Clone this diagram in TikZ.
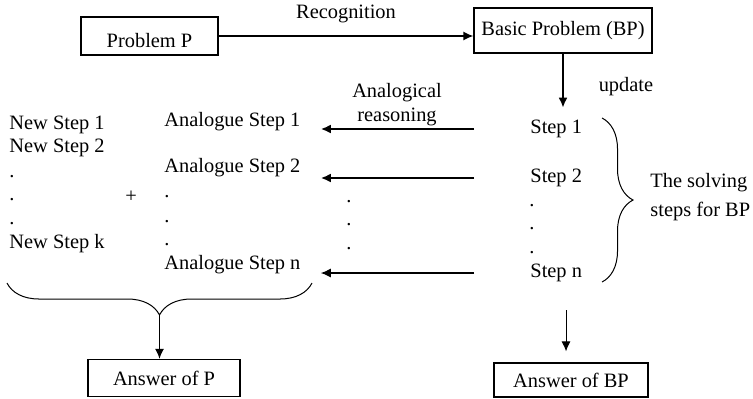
\documentclass[tikz,border=0pt]{standalone}
\usepackage{fontspec}
\setmainfont{Liberation Serif}
\usetikzlibrary{arrows.meta,positioning,calc,decorations.pathreplacing}
\tikzset{>={Latex[length=5pt,width=4.5pt]}}

\begin{document}
\begin{tikzpicture}[x=0.5pt,y=0.5pt,
    every node/.style={font=\fontsize{10.2}{12}\selectfont},
    box/.style={draw,line width=0.6pt,inner sep=0pt},
    txt/.style={inner sep=0pt,anchor=west},
    pdot/.style={inner sep=0pt},
    reason/.style={->,shorten <=28pt,shorten >=10pt}]
  \useasboundingbox (0,0) rectangle (753,-398);
  % boxes
  \node [box,minimum width=68.5pt,minimum height=19pt,text height=11.8pt] (P) at (149.5,-36) {Problem P};
  \node [box,minimum width=89pt,minimum height=22.5pt] (BP) at (563,-30.5) {Basic Problem (BP)};
  \node [box,minimum width=76pt,minimum height=18.5pt] (AP) at (164,-378) {Answer of P};
  \node [box,minimum width=77pt,minimum height=17pt] (ABP) at (571,-380) {Answer of BP};
  % columns of steps
  \node [txt] (N1) at (9,-125) {New Step 1};
  \node [txt] (N2) at (9,-148) {New Step 2};
  \node [txt] (Nk) at (9,-244) {New Step k};
  \node [inner sep=0pt] (plus) at (131,-197) {+};
  \node [txt] (A1) at (164,-122) {Analogue Step 1};
  \node [txt] (A2) at (164,-168) {Analogue Step 2};
  \node [txt] (An) at (164,-265) {Analogue Step n};
  \node [txt] (S1) at (530,-129) {Step 1};
  \node [txt] (S2) at (530,-178) {Step 2};
  \node [txt] (Sn) at (530,-273) {Step n};
  \foreach \x/\y in {12/177,12/200,12/224,167/197,167/222,167/245,349/202,349/225,349/249,532/206,532/229,532/253}
    \node [pdot] (d-\x-\y) at (\x,-\y) {.};
  \node [inner sep=0pt,align=center] (AR) at (397,-105) {Analogical\\reasoning};
  % braces
  \draw [decorate,decoration={brace,amplitude=16pt},line width=0.5pt] (312,-283) -- (7,-283);
  \coordinate (tipL) at (159.5,-315);
  \draw [decorate,decoration={brace,amplitude=15.5pt},line width=0.5pt] (602,-118) -- (602,-282);
  \node [txt,align=left,font=\fontsize{10.2}{14.5}\selectfont] (sol) at (650,-197.5) {The solving\\steps for BP};
  % arrows
  \draw [->,line width=0.7pt] (P.east) -- (P.east -| BP.west) node [midway,above,yshift=3pt] (rec) {Recognition};
  \draw [->,line width=1.1pt,shorten >=6pt] (BP.south) -- (BP.south |- S1.north) node [midway,right=14pt] (upd) {update};
  \draw [reason,line width=1.1pt] (S1.west) -- (S1.west -| A1.east);
  \draw [reason,line width=1.1pt] (S2.west) -- (S2.west -| A2.east);
  \draw [reason,line width=0.6pt] (Sn.west) -- (Sn.west -| An.east);
  \draw [->,line width=0.5pt,shorten <=14pt,shorten >=5.5pt] ([xshift=-2.5pt]ABP.north |- Sn.south) -- ([xshift=-2.5pt]ABP.north);
  \draw [->,line width=0.7pt] (tipL) -- (tipL |- AP.north);
\end{tikzpicture}
\end{document}
